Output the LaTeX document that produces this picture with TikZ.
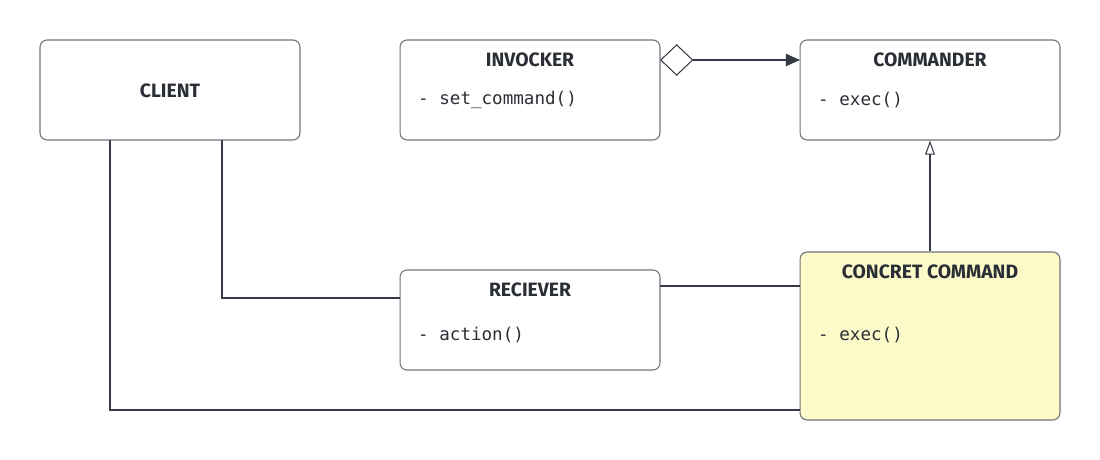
\documentclass[tikz,border=0pt]{standalone}
\usepackage{fontspec}
\setsansfont{Fira Sans}
\setmonofont{DejaVu Sans Mono}
\usepackage{tikz}
\usepackage{xcolor}
\usetikzlibrary{shapes, positioning, arrows.meta}

\definecolor{linec}{HTML}{363C46}
\definecolor{borderc}{HTML}{70747C}
\definecolor{textc}{HTML}{2A2E35}
\definecolor{notec}{HTML}{FBFAC8}

\tikzset{
    classbox/.style={draw=borderc, rounded corners=4pt, line width=0.6pt, minimum width=5.2cm, minimum height=2cm, inner sep=0pt},
    title/.style={font=\sffamily\bfseries\fontsize{11}{13}\selectfont, text=textc},
    method/.style={font=\ttfamily\fontsize{10}{12}\selectfont, text=textc, anchor=west},
    conn/.style={draw=linec, line width=0.6pt}
}

\begin{document}
\begin{tikzpicture}[x=0.02cm, y=-0.02cm]
        \useasboundingbox (0, 0) rectangle (1100, 460);

        \node[classbox] (client) at (170, 90) {};
        \node[classbox] (invocker) at (530, 90) {};
        \node[classbox] (commander) at (930, 90) {};
        \node[classbox] (reciever) at (530, 320) {};
        \node[classbox, fill=notec, minimum height=3.36cm] (concret) at (930, 336) {};

        \node[title] (clientT) at (170, 91) {CLIENT};
        \node[title] (invockerT) at (530, 60) {INVOCKER};
        \node[title] (commanderT) at (930, 60) {COMMANDER};
        \node[title] (recieverT) at (530, 290) {RECIEVER};
        \node[title] (concretT) at (930, 272) {CONCRET COMMAND};

        \node[method] (setcmd) at (412, 100) {- set\_command()};
        \node[method] (exec1) at (812, 100) {- exec()};
        \node[method] (action) at (412, 335) {- action()};
        \node[method] (exec2) at (812, 335) {- exec()};

        \coordinate (inv) at (660, 60);
        \coordinate (com) at (800, 60);
        \coordinate (rec) at (660, 286);
        \coordinate (con1) at (800, 286);
        \coordinate (rec2) at (400, 298);
        \coordinate (con2) at (800, 410);
        \coordinate (c1) at (110, 140);
        \coordinate (c2) at (222, 140);

        \draw[conn, {Diamond[open, length=19pt, width=18pt]}-{Triangle[length=8pt, width=7pt]}] (inv) -- (com);
        \draw[conn, -{Triangle[open, length=8pt, width=5.5pt]}] (concret.north) -- (commander.south);
        \draw[conn] (rec) -- (con1);
        \draw[conn] (c2) |- (rec2);
        \draw[conn] (c1) |- (con2);
    \end{tikzpicture}
\end{document}
